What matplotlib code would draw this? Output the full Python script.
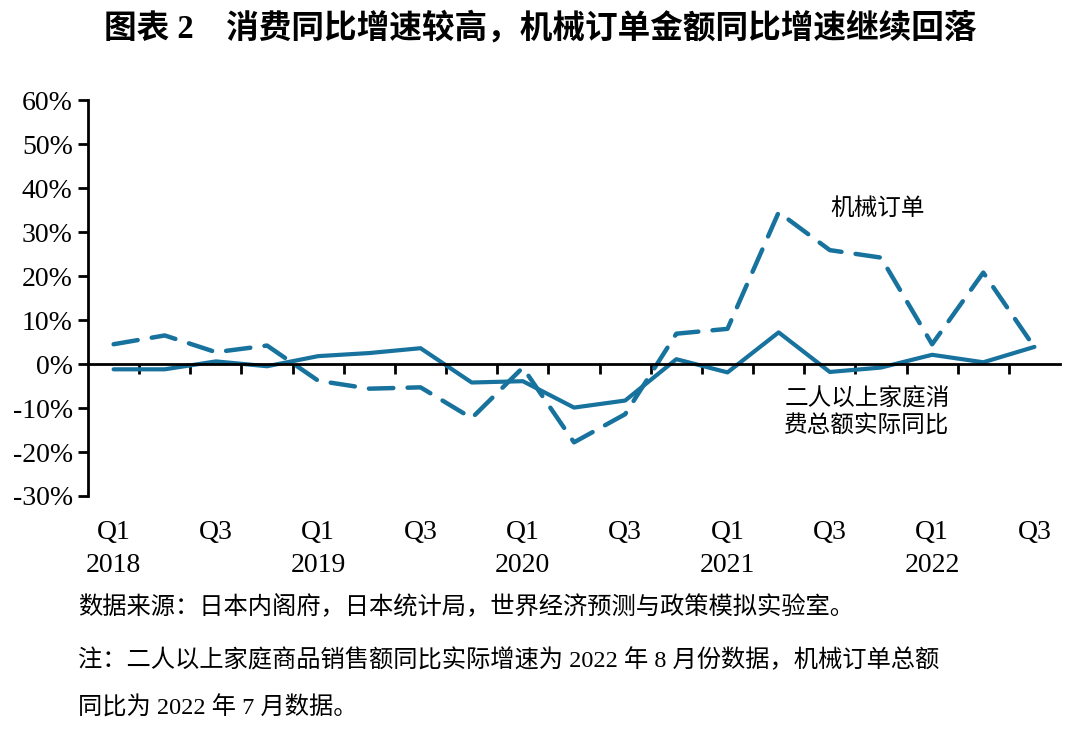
import numpy as np
import matplotlib.pyplot as plt

plt.rcParams['font.family'] = ['Liberation Serif', 'Noto Sans CJK SC']

# Quarterly, Q1 2018 .. Q3 2022 (YoY, %)
quarters = ['Q1\n2018', '', 'Q3', '', 'Q1\n2019', '', 'Q3', '', 'Q1\n2020', '', 'Q3', '',
            'Q1\n2021', '', 'Q3', '', 'Q1\n2022', '', 'Q3']
# machinery orders
orders = [4.5, 6.5, 2.7, 4.2, -3.8, -5.6, -5.3, -12.3, -0.8, -17.8, -11.4, 6.9, 8.0,
          34.5, 25.9, 24.2, 4.5, 20.8, 3.8]
# household consumption (2+ person households), real YoY
consumption = [-1.2, -1.2, 0.6, -0.5, 1.8, 2.5, 3.6, -4.2, -3.9, -9.9, -8.3, 1.1, -1.9,
               7.2, -1.8, -0.8, 2.1, 0.4, 3.9]
yticks = [-30, -20, -10, 0, 10, 20, 30, 40, 50, 60]

color = '#17729e'
x = np.arange(len(quarters))

fig = plt.figure(figsize=(10.8, 7.31), dpi=100)
ax = fig.add_axes([0.0815, 0.3215, 0.9, 0.5415])

ax.plot(x, orders, color=color, lw=3.2, dashes=(5.5, 3.2), dash_capstyle='round',
        solid_capstyle='round')
ax.plot(x, consumption, color=color, lw=3.0, solid_capstyle='round')

ax.set_xlim(-0.5, len(quarters) - 0.5)
ax.set_ylim(-30, 60)
ax.set_yticks(yticks)
ax.set_yticklabels([f'{v}%' for v in yticks], fontsize=20)
ax.tick_params(axis='y', direction='out', length=7, width=2, pad=4)

ax.spines['top'].set_visible(False)
ax.spines['right'].set_visible(False)
ax.spines['left'].set_linewidth(2)
ax.spines['bottom'].set_position(('data', 0))
ax.spines['bottom'].set_linewidth(2)
ax.set_xticks(np.arange(0.5, len(quarters) - 1, 1))
ax.set_xticklabels([])
ax.tick_params(axis='x', direction='out', length=7, width=2)

for i, lab in enumerate(quarters):
    if lab:
        ax.text(i, -0.06, lab, transform=ax.get_xaxis_transform(), ha='center',
                va='top', fontsize=20, linespacing=1.45)

ax.text(14.93, 35.3, '机械订单', ha='center', va='center', fontsize=17)
ax.text(14.73, -11, '二人以上家庭消\n费总额实际同比', ha='center', va='center',
        fontsize=17, linespacing=1.35)

fig.text(0.5, 0.962, '图表 2    消费同比增速较高，机械订单金额同比增速继续回落',
         ha='center', va='center', fontsize=23.5, fontweight='bold')
fig.text(0.072, 0.17, '数据来源：日本内阁府，日本统计局，世界经济预测与政策模拟实验室。',
         ha='left', va='center', fontsize=17.5)
fig.text(0.072, 0.097, '注：二人以上家庭商品销售额同比实际增速为 2022 年 8 月份数据，机械订单总额',
         ha='left', va='center', fontsize=17.5)
fig.text(0.072, 0.031, '同比为 2022 年 7 月数据。', ha='left', va='center', fontsize=17.5)

fig.savefig('out.png', dpi=100)
